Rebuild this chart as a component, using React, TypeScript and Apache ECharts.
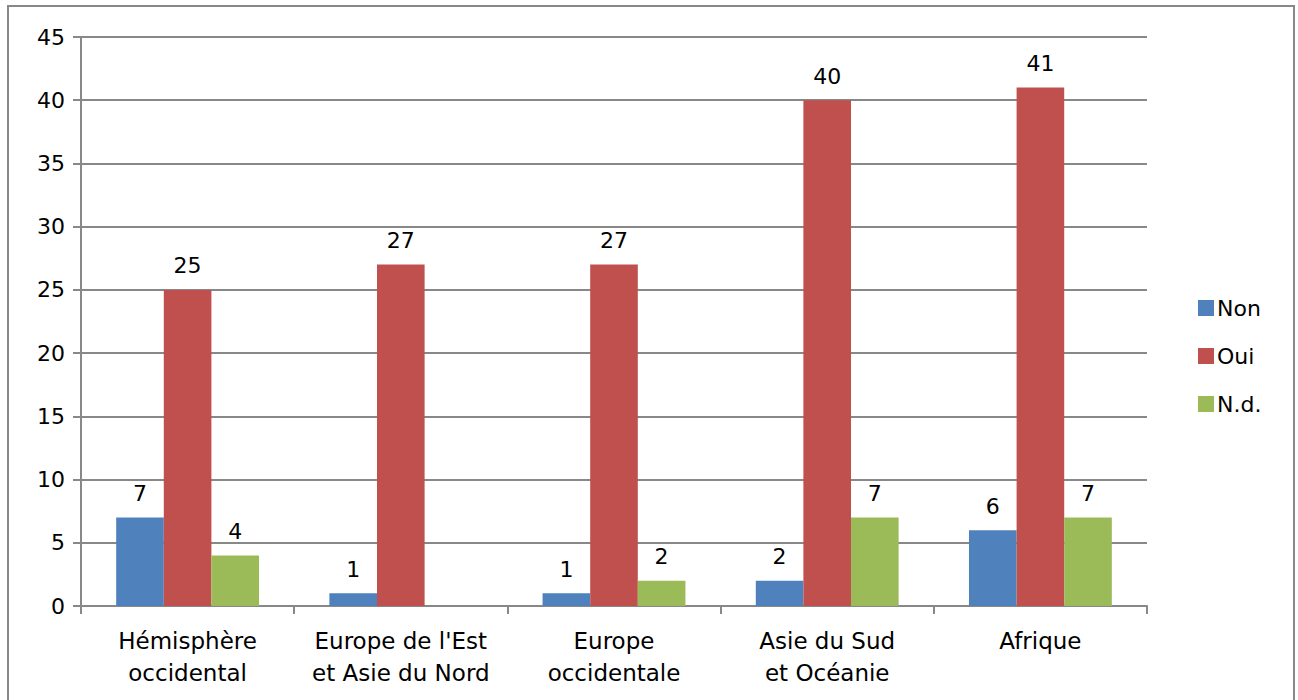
import React, { useEffect, useRef } from "react";
import * as echarts from "echarts";

const categories = [
  "Hémisphère\noccidental",
  "Europe de l'Est\net Asie du Nord",
  "Europe\noccidentale",
  "Asie du Sud\net Océanie",
  "Afrique",
];
const nonValues = [7, 1, 1, 2, 6];
const ouiValues = [25, 27, 27, 40, 41];
const ndValues: (number | null)[] = [4, null, 2, 7, 7];
const seriesNames = ["Non", "Oui", "N.d."];
const colors = ["#4F81BD", "#C0504D", "#9BBB59"];

const FONT = "DejaVu Sans";
const FS = 22;

export default function App() {
  const ref = useRef<HTMLDivElement>(null);
  useEffect(() => {
    if (!ref.current) return;
    const chart = echarts.init(ref.current, null, { renderer: "svg" });
    const label = {
      show: true,
      position: "top" as const,
      distance: 13,
      color: "#000",
      fontFamily: FONT,
      fontSize: FS,
    };
    const data = [nonValues, ouiValues, ndValues];
    chart.setOption({
      animation: false,
      backgroundColor: "#fff",
      textStyle: { fontFamily: FONT },
      grid: { left: 81, right: 151, top: 37, bottom: 94, containLabel: false },
      legend: {
        orient: "vertical",
        left: 1193,
        top: 292,
        itemWidth: 16,
        itemHeight: 16,
        itemGap: 26,
        icon: "rect",
        textStyle: { fontFamily: FONT, fontSize: FS, color: "#000", padding: [0, 0, 0, -2] },
        data: seriesNames,
      },
      xAxis: {
        type: "category",
        data: categories,
        axisLine: { lineStyle: { color: "#888", width: 2 } },
        axisTick: { show: true, interval: 0, alignWithLabel: false, length: 8, lineStyle: { color: "#888", width: 2 } },
        axisLabel: { interval: 0, color: "#000", fontFamily: FONT, fontSize: 23, lineHeight: 32, margin: 19 },
      },
      yAxis: {
        type: "value",
        min: 0,
        max: 45,
        interval: 5,
        axisLine: { show: true, lineStyle: { color: "#888", width: 2 } },
        axisTick: { show: true, length: 8, lineStyle: { color: "#888", width: 2 } },
        splitLine: { show: true, lineStyle: { color: "#888", width: 2 } },
        axisLabel: { color: "#000", fontFamily: FONT, fontSize: FS, margin: 16 },
      },
      series: seriesNames.map((name, i) => ({
        name,
        type: "bar",
        data: data[i],
        barGap: "0%",
        barCategoryGap: "33%",
        itemStyle: { color: colors[i] },
        label,
      })),
      graphic: [
        {
          type: "rect",
          shape: { x: 8, y: 6, width: 1286, height: 700 },
          style: { fill: "none", stroke: "#888", lineWidth: 2 },
          silent: true,
        },
      ],
    });
    return () => chart.dispose();
  }, []);
  return (
    <div
      ref={ref}
      style={{ position: "fixed", left: 0, top: 0, width: 1298, height: 700 }}
    />
  );
}
